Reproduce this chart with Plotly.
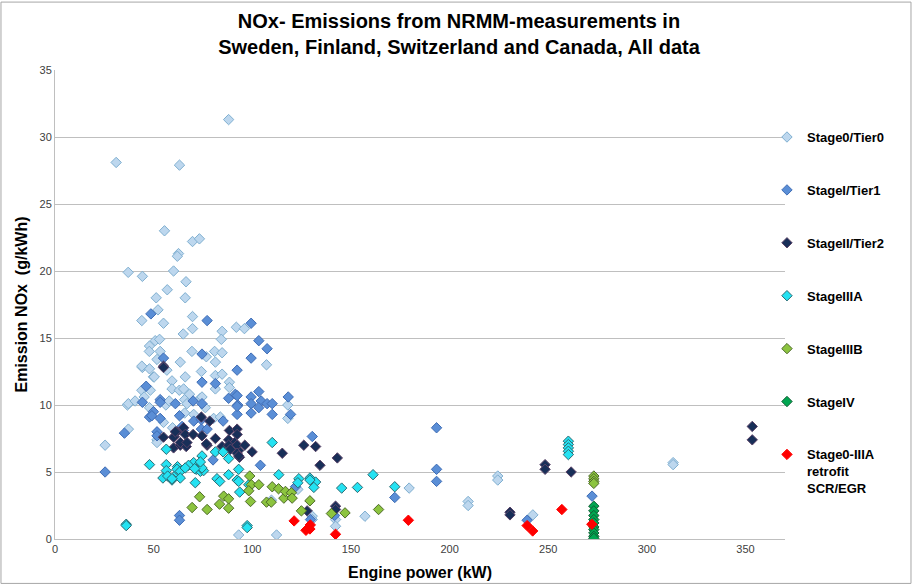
import plotly.graph_objects as go

# NOx emissions (g/kWh) vs engine power (kW), one list of (power, NOx) per emission stage
stage0 = [(31.0, 28.1), (63.1, 27.9), (88.0, 31.3), (55.5, 23.0), (69.7, 22.2), (73.2, 22.4),
          (62.6, 21.3), (62.0, 21.1), (37.1, 19.9), (44.3, 19.6), (60.1, 20.0), (66.4, 19.2),
          (56.9, 18.6), (51.3, 18.0), (66.0, 18.0), (52.2, 17.1), (44.0, 16.3), (55.0, 16.1),
          (69.7, 16.6), (65.0, 15.3), (69.7, 15.7), (84.7, 15.5), (84.3, 14.9), (91.9, 15.8),
          (96.0, 15.7), (50.8, 14.8), (53.0, 14.9), (47.9, 14.4), (47.8, 14.0), (53.3, 14.0),
          (69.4, 14.0), (80.9, 14.0), (84.7, 13.9), (76.7, 13.6), (51.7, 13.4), (63.5, 13.2),
          (81.3, 13.2), (107.2, 13.0), (56.7, 12.6), (44.3, 12.8), (47.9, 12.7), (49.9, 12.1),
          (66.0, 12.1), (74.2, 12.5), (81.3, 12.2), (84.7, 12.3), (44.0, 11.1), (48.3, 11.1),
          (59.3, 11.8), (59.3, 11.2), (63.0, 11.1), (65.2, 11.2), (81.3, 11.2), (88.4, 11.7),
          (88.4, 11.3), (36.7, 10.0), (37.2, 10.1), (40.6, 10.3), (45.2, 10.6), (47.9, 9.8),
          (56.2, 10.0), (57.9, 10.3), (65.7, 10.4), (66.9, 10.1), (73.7, 10.5), (74.5, 10.6),
          (76.2, 9.8), (118.0, 10.0), (118.0, 9.0), (51.7, 7.4), (51.7, 7.2), (25.4, 7.0),
          (37.2, 8.2), (55.0, 8.7), (59.6, 8.3), (65.7, 9.4), (70.3, 9.3), (80.4, 9.0),
          (83.8, 9.1), (93.1, 0.3), (109.7, 2.9), (112.3, 0.3), (123.1, 3.7), (130.4, 1.7),
          (130.4, 1.45), (142.2, 1.45), (142.2, 0.95), (157.1, 1.7), (179.5, 3.8), (224.4, 4.7),
          (224.4, 4.4), (209.4, 2.8), (209.4, 2.5), (242.2, 1.8), (313.3, 5.7), (313.3, 5.55),
          (68.2, 10.8), (50.3, 12.1), (44.0, 12.9)]

stage1 = [(48.6, 16.8), (77.1, 16.3), (55.0, 13.5), (74.5, 13.8), (81.3, 11.6), (74.5, 11.7),
          (46.2, 11.4), (92.3, 12.6), (44.3, 10.2), (53.3, 10.4), (53.3, 10.2), (61.0, 10.1),
          (70.0, 10.3), (74.5, 10.1), (88.0, 10.5), (91.4, 10.8), (92.6, 10.0), (47.9, 9.1),
          (49.9, 9.5), (53.3, 9.0), (63.1, 9.2), (70.3, 8.8), (74.2, 8.2), (74.2, 8.9),
          (85.2, 8.8), (92.3, 9.3), (51.7, 8.0), (51.7, 7.7), (64.4, 8.4), (65.0, 8.1),
          (35.2, 7.9), (25.4, 5.0), (80.1, 5.9), (63.1, 1.75), (63.1, 1.4), (99.4, 16.1),
          (103.3, 14.8), (107.5, 14.2), (99.4, 13.5), (92.3, 9.9), (99.4, 10.6), (99.4, 10.1),
          (103.3, 11.0), (104.5, 10.3), (103.3, 9.8), (107.5, 10.1), (110.1, 10.1), (110.1, 9.3),
          (118.2, 10.6), (119.4, 9.3), (99.4, 9.4), (77.1, 8.2), (104.1, 5.5), (130.4, 7.65),
          (121.9, 3.9), (129.5, 1.45), (141.7, 1.75), (193.4, 8.3), (193.4, 5.2), (193.4, 4.3),
          (172.2, 3.1), (272.2, 3.2), (239.3, 1.4), (49.1, 9.2), (92.3, 10.7)]

stage2 = [(55.0, 12.9), (55.0, 12.8), (74.2, 9.1), (78.4, 8.8), (60.5, 7.65), (61.8, 8.0),
          (65.2, 8.3), (55.0, 7.6), (60.1, 6.8), (63.5, 7.0), (66.5, 6.9), (66.0, 7.8),
          (70.0, 7.8), (74.5, 7.7), (77.1, 7.0), (81.3, 7.5), (88.4, 8.1), (88.0, 7.4),
          (84.7, 6.9), (91.1, 7.2), (93.1, 6.6), (92.3, 8.2), (92.3, 7.8), (88.0, 7.0),
          (92.3, 7.0), (96.2, 7.0), (92.3, 6.4), (93.5, 6.1), (99.9, 6.5), (115.2, 6.4),
          (126.1, 7.0), (132.1, 6.9), (134.3, 5.5), (143.1, 6.05), (142.2, 2.45), (142.2, 2.2),
          (127.8, 2.1), (63.5, 7.2), (66.9, 7.2), (76.7, 7.1), (88.9, 6.7), (93.1, 6.2),
          (248.4, 5.55), (248.4, 5.2), (261.6, 5.0), (230.6, 2.0), (230.6, 1.8), (353.4, 8.4),
          (353.4, 7.4), (60.1, 7.6), (61.0, 8.0)]

stage3a = [(56.4, 6.7), (47.9, 5.55), (56.4, 5.55), (56.4, 5.1), (54.7, 4.55), (57.1, 4.7),
           (59.3, 4.4), (62.1, 5.4), (62.1, 4.9), (36.1, 1.1), (36.1, 1.0), (74.5, 6.2),
           (70.3, 5.7), (67.7, 5.5), (72.8, 5.55), (61.8, 5.2), (63.5, 5.05), (66.0, 5.3),
           (71.6, 5.2), (73.7, 5.05), (75.3, 5.1), (63.5, 4.55), (71.1, 4.2), (81.3, 6.5),
           (85.2, 6.5), (88.0, 6.0), (93.1, 5.2), (110.1, 7.2), (82.1, 4.5), (83.5, 4.3),
           (88.0, 4.8), (92.3, 4.4), (93.1, 4.3), (98.2, 4.05), (93.6, 3.5), (113.4, 4.8),
           (97.4, 1.0), (97.4, 0.85), (123.6, 4.5), (123.1, 4.2), (129.2, 4.55), (132.1, 4.25),
           (129.2, 4.4), (131.2, 3.85), (145.3, 3.8), (153.3, 3.85), (161.2, 4.8), (172.2, 3.9),
           (74.5, 5.3), (73.7, 5.75), (260.2, 7.3), (260.2, 7.05), (260.2, 6.8), (260.2, 6.55),
           (260.2, 6.3), (59.3, 4.5), (70.8, 5.25)]

stage3b = [(73.3, 3.15), (69.5, 2.35), (77.1, 2.2), (85.5, 3.2), (88.0, 3.0), (83.4, 2.6),
           (88.0, 2.3), (98.7, 4.7), (99.5, 4.05), (103.3, 4.05), (98.2, 3.6), (99.1, 2.8),
           (110.1, 3.9), (113.3, 3.75), (107.2, 2.75), (109.6, 2.75), (116.0, 3.05), (116.8, 3.55),
           (119.8, 3.45), (120.2, 3.05), (129.2, 2.85), (124.9, 2.1), (140.1, 1.9), (147.0, 1.95),
           (164.0, 2.2), (273.1, 4.7), (273.1, 4.5), (273.1, 4.3), (273.1, 4.15)]

stage4 = [(273.1, 2.45), (273.1, 2.1), (273.1, 1.75), (273.1, 1.45), (273.1, 1.2), (273.1, 0.9),
          (273.1, 0.7), (273.1, 0.45), (273.1, 0.2), (273.1, 0.05)]

retrofit = [(121.2, 1.35), (127.2, 0.65), (129.2, 0.75), (129.4, 1.05), (142.2, 0.35),
            (179.1, 1.4), (256.9, 2.2), (239.3, 1.0), (242.1, 0.6), (272.1, 1.1)]

series = [
    ("Stage0/Tier0", stage0, "#BDD7EE", "#7FAFD0"),
    ("StageI/Tier1", stage1, "#5A8ED6", "#3F6DB5"),
    ("StageII/Tier2", stage2, "#182F58", "#5A4266"),
    ("StageIIIA", stage3a, "#24E2F2", "#2B6A72"),
    ("StageIIIB", stage3b, "#8CC43F", "#4E6A2A"),
    ("StageIV", stage4, "#00A651", "#105C33"),
    ("Stage0-IIIA<br>retrofit<br>SCR/EGR", retrofit, "#FF0000", "#FF0000"),
]

fnt = "Liberation Sans, Arial, sans-serif"

fig = go.Figure()
for i, (name, pts, fill, edge) in enumerate(series):
    fig.add_trace(go.Scatter(
        x=[p[0] for p in pts], y=[p[1] for p in pts],
        mode="markers", name=name, legendgroup=str(i),
        marker=dict(symbol="diamond", size=8, color=fill, line=dict(color=edge, width=1)),
    ))

fig.update_layout(
    width=918, height=586,
    margin=dict(l=55, r=133, t=70, b=47),
    paper_bgcolor="white", plot_bgcolor="white",
    font=dict(family=fnt, color="#000000"),
    title=dict(
        text="NOx- Emissions from NRMM-measurements in<br>Sweden, Finland, Switzerland and Canada, All data",
        x=0.5, xref="container", xanchor="center",
        y=0.953, yref="container", yanchor="top",
        font=dict(size=20, family=fnt, color="#000000", weight="bold"),
    ),
    legend=dict(
        x=0.9753, xanchor="left", y=0.889, yanchor="top",
        font=dict(size=13, family=fnt, color="#000000", weight="bold"),
        tracegroupgap=33, traceorder="grouped", valign="top",
        bgcolor="rgba(0,0,0,0)",
    ),
    shapes=[dict(type="rect", xref="paper", yref="paper",
                 x0=-0.074, x1=1.1726, y0=-0.0947, y1=1.1448,
                 line=dict(color="#A6A6A6", width=1))],
)

fig.update_xaxes(
    range=[0, 370], dtick=50, showgrid=False, zeroline=False, automargin=False,
    showline=True, linecolor="#BFBFBF", linewidth=1,
    tickfont=dict(size=11, color="#404040"),
    title=dict(text="Engine power (kW)", standoff=12,
               font=dict(size=16, color="#000000", weight="bold")),
)
fig.update_yaxes(
    range=[0, 35], dtick=5, showgrid=True, gridcolor="#BFBFBF", gridwidth=1,
    zeroline=False, showline=True, linecolor="#BFBFBF", linewidth=1, automargin=False,
    tickfont=dict(size=11, color="#404040"),
    title=dict(text="Emission NOx  (g/kWh)", standoff=7,
               font=dict(size=16, color="#000000", weight="bold")),
)

# drop the page's default 8px body margin so the figure sits at the window's corner
fig.write_html("out.html", config={"displayModeBar": False},
               post_script="document.body.style.margin='0';")
